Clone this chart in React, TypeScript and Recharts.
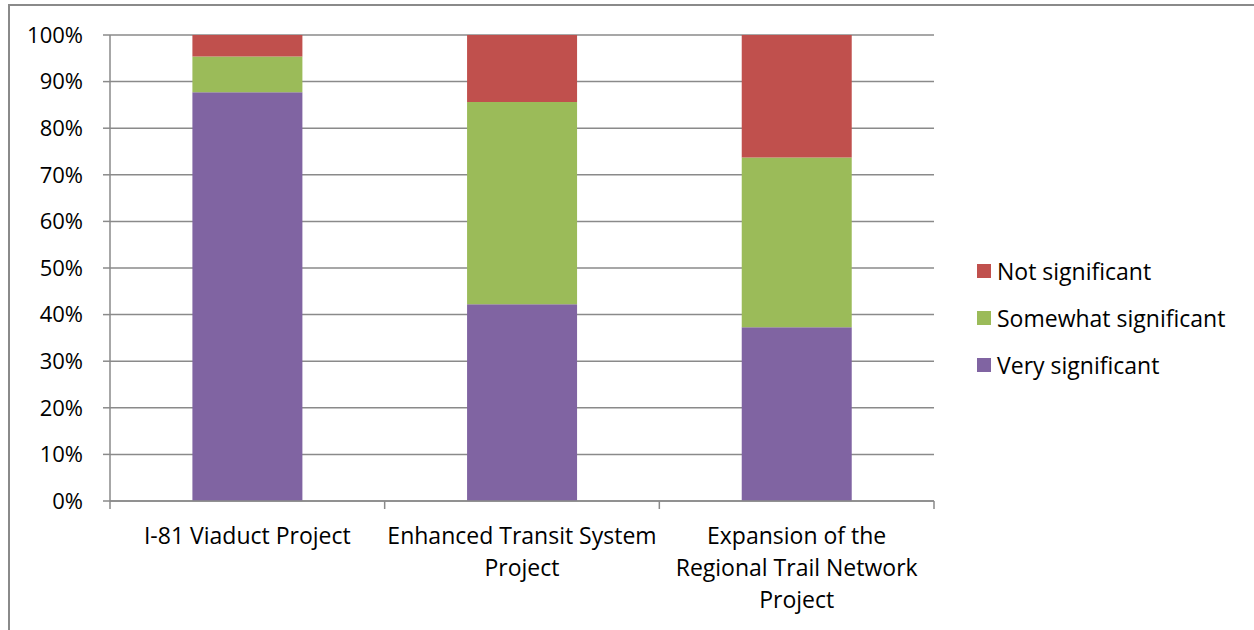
import React from 'react';
import { BarChart, Bar, XAxis, YAxis, CartesianGrid, Legend } from 'recharts';

// Share of respondents rating each project's significance (percent)
const categories = [
  'I-81 Viaduct Project',
  'Enhanced Transit System\nProject',
  'Expansion of the\nRegional Trail Network\nProject',
];
const verySignificant = [87.7, 42.2, 37.3];
const somewhatSignificant = [7.7, 43.4, 36.4];
const notSignificant = [4.6, 14.4, 26.3];
const yTicks = [0, 10, 20, 30, 40, 50, 60, 70, 80, 90, 100];

const seriesNames = {
  very: 'Very significant',
  somewhat: 'Somewhat significant',
  not: 'Not significant',
};

const COLORS = { very: '#8064A2', somewhat: '#9BBB59', not: '#C0504D' };

const data = categories.map((name, i) => ({
  name,
  very: verySignificant[i],
  somewhat: somewhatSignificant[i],
  not: notSignificant[i],
}));

const W = 1254;
const H = 630;
const LEGEND_W = 270;
const PLOT_RIGHT_GAP = 320;
const MARGIN = { top: 35, right: PLOT_RIGHT_GAP - LEGEND_W, bottom: 0, left: 0 };
const Y_AXIS_W = 110;
const X_AXIS_H = 129;
const PLOT_W = W - PLOT_RIGHT_GAP - Y_AXIS_W;
const AXIS_COLOR = '#8a8a8a';
const FONT = '"Open Sans", sans-serif';

const CategoryTick = (props: any) => {
  const { x, y, payload, index } = props;
  const band = PLOT_W / categories.length;
  const lines = String(payload.value).split('\n');
  return (
    <g>
      <line x1={x - band / 2} x2={x - band / 2} y1={y} y2={y + 8} stroke={AXIS_COLOR} strokeWidth={1.5} />
      {index === categories.length - 1 && (
        <line x1={x + band / 2} x2={x + band / 2} y1={y} y2={y + 8} stroke={AXIS_COLOR} strokeWidth={1.5} />
      )}
      <text x={x} y={y + 43} textAnchor="middle" fill="#000" fontSize={23} fontFamily={FONT}>
        {lines.map((ln, i) => (
          <tspan key={i} x={x} dy={i === 0 ? 0 : 32}>
            {ln}
          </tspan>
        ))}
      </text>
    </g>
  );
};

const LegendContent = () => {
  const items: Array<keyof typeof COLORS> = ['not', 'somewhat', 'very'];
  return (
    <div style={{ fontFamily: FONT, fontSize: 23, color: '#000' }}>
      {items.map((k) => (
        <div key={k} style={{ display: 'flex', alignItems: 'center', height: 47 }}>
          <span style={{ display: 'inline-block', width: 14, height: 14, background: COLORS[k], marginRight: 6 }} />
          <span style={{ whiteSpace: 'nowrap' }}>{seriesNames[k]}</span>
        </div>
      ))}
    </div>
  );
};

export default function App() {
  return (
    <div style={{ position: 'absolute', left: 0, top: 0, width: W, height: H, overflow: 'hidden', background: '#fff' }}>
      <div
        style={{
          position: 'absolute',
          left: 8,
          top: 4,
          width: W + 40,
          height: H + 40,
          border: '2px solid #8a8a8a',
          boxSizing: 'border-box',
        }}
      />
      <div style={{ position: 'absolute', left: 0, top: 0 }}>
        <BarChart width={W} height={H} data={data} margin={MARGIN} barCategoryGap="30%">
          <CartesianGrid vertical={false} stroke={AXIS_COLOR} strokeWidth={1.5} />
          <XAxis
            dataKey="name"
            height={X_AXIS_H}
            interval={0}
            tickLine={false}
            tickSize={0}
            tickMargin={0}
            axisLine={{ stroke: AXIS_COLOR, strokeWidth: 1.5 }}
            tick={<CategoryTick />}
          />
          <YAxis
            width={Y_AXIS_W}
            domain={[0, 100]}
            ticks={yTicks}
            interval={0}
            tickFormatter={(v: number) => `${v}%`}
            tickSize={7}
            tickMargin={20}
            tickLine={{ stroke: AXIS_COLOR, strokeWidth: 1.5 }}
            axisLine={{ stroke: AXIS_COLOR, strokeWidth: 1.5 }}
            tick={{ fill: '#000', fontSize: 22, fontFamily: FONT }}
          />
          <Legend
            layout="vertical"
            align="right"
            verticalAlign="top"
            width={LEGEND_W}
            content={<LegendContent />}
            wrapperStyle={{ position: 'absolute', left: 977, top: 247, width: LEGEND_W }}
          />
          <Bar dataKey="very" name={seriesNames.very} stackId="s" fill={COLORS.very} isAnimationActive={false} />
          <Bar dataKey="somewhat" name={seriesNames.somewhat} stackId="s" fill={COLORS.somewhat} isAnimationActive={false} />
          <Bar dataKey="not" name={seriesNames.not} stackId="s" fill={COLORS.not} isAnimationActive={false} />
        </BarChart>
      </div>
    </div>
  );
}
